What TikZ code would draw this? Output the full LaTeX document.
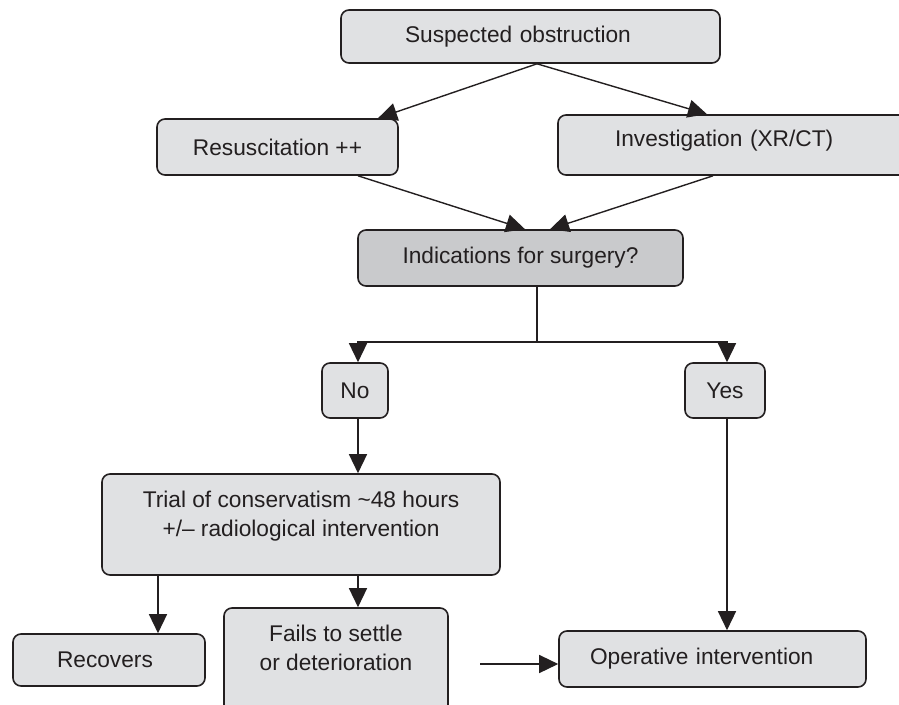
\documentclass[tikz,border=0pt]{standalone}
\usepackage{fontspec}
\setmainfont{Liberation Sans}
\usetikzlibrary{positioning,arrows.meta}
\definecolor{boxgray}{HTML}{E0E1E3}
\definecolor{askgray}{HTML}{C9CACC}
\definecolor{inkline}{HTML}{231F20}

\begin{document}
\begin{tikzpicture}[
      x=1pt, y=-1pt,
      nodes={font=\fontsize{22.7}{28.5}\selectfont, text=inkline},
      box/.style={
        draw=inkline, line width=1.6pt, fill=boxgray,
        rounded corners=8pt, inner sep=0pt, align=center
      },
      flow/.style={->, draw=inkline, line width=1.4pt},
      link/.style={draw=inkline, line width=1.4pt},
      on grid, >={Triangle[length=19pt,width=18pt]}
      ]
	  \useasboundingbox (0,0) rectangle (899,704);

	  \node[box, minimum width=379pt, minimum height=53pt, text width=251pt, align=left] (sus) at (530.5,36.5) {Suspected obstruction};
	  \node[box, minimum width=241pt, minimum height=56pt, below left = 110.5pt and 253pt of sus] (resus) {Resuscitation ++};
	  \node[box, minimum width=372pt, minimum height=60pt, text width=258pt, align=left, text depth=12.5pt, below right = 108.5pt and 213.5pt of sus] (inv) {Investigation (XR/CT)};
	  \node[box, fill=askgray, minimum width=325pt, minimum height=56pt, below left = 221.5pt and 10pt of sus] (ind) {Indications for surgery?};
	  \node[box, minimum width=66pt, minimum height=55pt, below left = 132.5pt and 165.5pt of ind] (no) {No};
	  \node[box, minimum width=80pt, minimum height=55pt, below right = 132.5pt and 204.5pt of ind] (yes) {Yes};
	  \node[box, minimum width=398pt, minimum height=101pt, text depth=21.6pt, below left = 134pt and 54pt of no] (trial) {Trial of conservatism \textasciitilde48 hours\\+/-- radiological intervention};
	  \node[box, minimum width=192pt, minimum height=52pt, text width=104pt, align=left, below left = 135.5pt and 192pt of trial] (rec) {Recovers};
	  \node[box, minimum width=224pt, minimum height=108pt, text depth=28pt, below right = 137.5pt and 35pt of trial] (fails) {Fails to settle\\or deterioration};
	  \node[box, minimum width=307pt, minimum height=56pt, text width=245pt, align=left, below left = 268.5pt and 12.5pt of yes] (oper) {Operative intervention};

	  \coordinate (fork) at (537,342);
	  \coordinate (gap) at (480,664);

  % Connect the nodes

  \draw[flow] ([xshift=6.5pt]sus.south) -- ([xshift=100.5pt]resus.north);
  \draw[flow] ([xshift=6.5pt]sus.south) -- ([xshift=-37pt]inv.north);
  \draw[flow] ([xshift=80.5pt]resus.south) -- ([xshift=4.5pt]ind.north);
  \draw[flow] ([xshift=-31pt]inv.south) -- ([xshift=29.5pt]ind.north);
  \draw[link] ([xshift=16.5pt]ind.south) -- (fork);
  \draw[flow] (fork) -| ([xshift=3pt]no.north);
  \draw[flow] (fork) -| ([xshift=2pt]yes.north);
  \draw[flow] ([xshift=3pt]no.south) -- ([xshift=3pt]no.south |- trial.north);
  \draw[flow] ([xshift=49pt]rec.north |- trial.south) -- ([xshift=49pt]rec.north);
  \draw[flow] ([xshift=3pt]no.south |- trial.south) -- ([xshift=3pt]no.south |- fails.north);
  \draw[flow] ([xshift=2pt]yes.south) -- ([xshift=2pt]yes.south |- oper.north);
  \draw[flow] (gap) -- (oper.west |- gap);

\end{tikzpicture}
\end{document}
